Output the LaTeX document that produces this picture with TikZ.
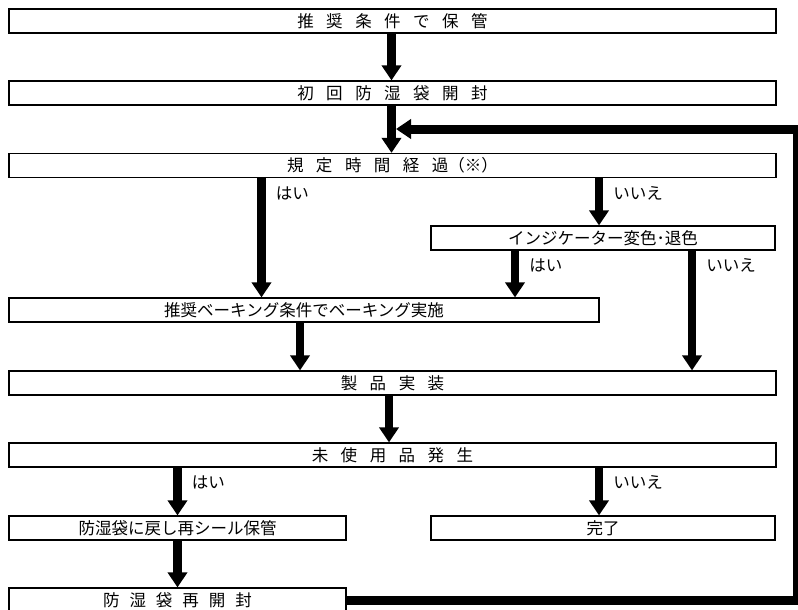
\documentclass[tikz,border=0pt]{standalone}
\usepackage{fontspec}
\newfontfamily\jp{Noto Sans CJK JP}
\usetikzlibrary{arrows.meta}

\begin{document}
\begin{tikzpicture}[x=1pt,y=-1pt,
	box/.style={draw,line width=1.2pt,inner sep=0pt,minimum height=24pt,font=\jp\fontsize{16.5}{18}\selectfont},
	wide/.style={box,execute at begin node={\spaceskip=12.5pt\relax}},
	flow/.style={line width=8.5pt,-{Triangle[width=19pt,length=15pt]}},
	lbl/.style={anchor=north west,inner sep=0pt,xshift=10pt,yshift=-4pt,font=\jp\fontsize{16.5}{18}\selectfont}]
	
	\useasboundingbox (0,0) rectangle (798,610);
	\clip (0,0) rectangle (798,610);
	
	\node[wide,minimum width=767pt] (keep) at (392.5,21) {推 奨 条 件 で 保 管};
	\node[wide,minimum width=767pt] (open1) at (392.5,93) {初 回 防 湿 袋 開 封};
	\node[wide,minimum width=767pt] (elapsed) at (392.5,165.5) {規 定 時 間 経 過（※）};
	\node[box,minimum width=344pt] (indic) at (603,238) {インジケーター変色･退色};
	\node[box,minimum width=590pt] (bake) at (304,310) {推奨ベーキング条件でベーキング実施};
	\node[wide,minimum width=767pt] (mount) at (392.5,383) {製 品 実 装};
	\node[wide,minimum width=767pt] (unused) at (392.5,455) {未 使 用 品 発 生};
	\node[box,minimum width=337pt] (reseal) at (177.5,528) {防湿袋に戻し再シール保管};
	\node[box,minimum width=344pt] (done) at (603,528) {完了};
	\node[wide,minimum width=337pt,execute at begin node={\spaceskip=10pt\relax}] (reopen) at (177.5,600) {防 湿 袋 再 開 封};
	
	\coordinate (merge) at (396,129);
	\coordinate (back) at (797,129);
	
	\draw[flow] (keep.south -| 391.5,0) -- (open1.north -| 391.5,0);
	\draw[flow] (open1.south -| 391.5,0) -- (elapsed.north -| 391.5,0);
	\draw[flow] (elapsed.south -| 261.5,0) -- node[lbl,pos=0]{はい} (bake.north -| 261.5,0);
	\draw[flow] (elapsed.south -| 599,0) -- node[lbl,pos=0]{いいえ} (indic.north -| 599,0);
	\draw[flow] (indic.south -| 515,0) -- node[lbl,pos=0]{はい} (bake.north -| 515,0);
	\draw[flow] (indic.south -| 692,0) -- node[lbl,pos=0]{いいえ} (mount.north -| 692,0);
	\draw[flow] (bake.south -| 300,0) -- (mount.north -| 300,0);
	\draw[flow] (mount.south -| 389,0) -- (unused.north -| 389,0);
	\draw[flow] (unused.south -| reseal.north) -- node[lbl,pos=0]{はい} (reseal.north);
	\draw[flow] (unused.south -| 599,0) -- node[lbl,pos=0]{いいえ} (done.north -| 599,0);
	\draw[flow] (reseal.south) -- (reopen.north);
	\draw[flow,line width=9pt] (reopen.east) -| (back) -- (merge);
	
\end{tikzpicture}
\end{document}
